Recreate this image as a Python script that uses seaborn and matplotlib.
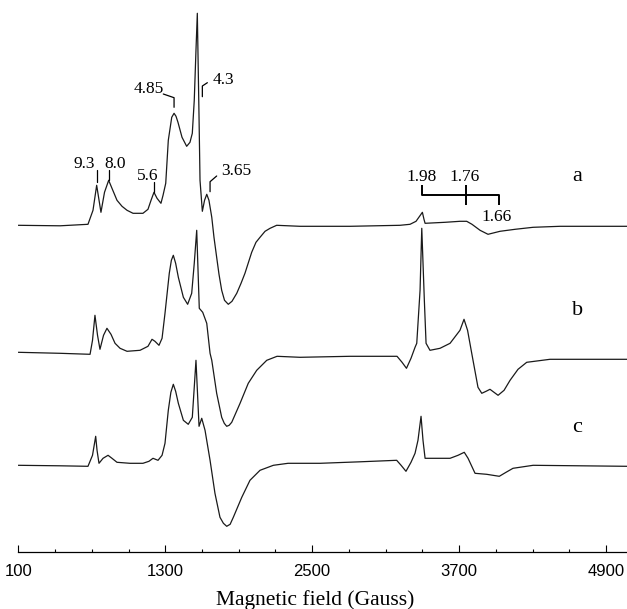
import matplotlib
matplotlib.use("Agg")
import matplotlib.pyplot as plt
import seaborn as sns
import pandas as pd

# ---------------- data ----------------
field_a = [100, 441, 669, 710, 740, 775, 804, 838, 865, 906, 947, 988, 1037, 1118, 1159, 1184,
           1208, 1233, 1265, 1282, 1304, 1325, 1353, 1372, 1388, 1404, 1437, 1475, 1502, 1521, 1537,
           1551, 1562, 1576, 1584, 1603, 1621, 1639, 1657, 1680, 1698, 1720, 1739, 1761, 1784,
           1815, 1845, 1884, 1919, 1951, 2006, 2041, 2074, 2115, 2156, 2210, 2401, 2809, 3217,
           3299, 3348, 3377, 3400, 3413, 3422, 3585, 3707, 3762, 3805, 3871, 3936, 4034, 4157,
           4304, 4524, 5071]
signal_a = [0, -0.5, 1, 15, 40, 13, 33, 45, 37, 25, 19, 15, 12, 12, 16, 25,
            33, 27, 22, 30, 42, 85, 108, 112, 109, 103, 88, 79, 83, 92, 125,
            175, 212, 108, 45, 14, 25, 31, 25, 8, -12, -32, -49, -65, -75,
            -79, -76, -68, -58, -48, -27, -17, -12, -6, -3, 0, -1, -1, 0,
            1, 4, 9, 13, 6, 2, 3, 4, 4, 1, -5, -9, -6, -4,
            -2, -1, -1]

field_b = [100, 441, 686, 706, 726, 747, 767, 796, 824, 857, 890, 931, 988, 1094, 1159, 1192,
           1216, 1249, 1274, 1298, 1333, 1350, 1366, 1385, 1407, 1448, 1483, 1516, 1537, 1557, 1578, 1606,
           1639, 1666, 1680, 1720, 1761, 1782, 1802, 1822, 1843, 1911, 1978, 2047, 2129, 2213, 2401, 2809,
           3193, 3234, 3270, 3307, 3340, 3354, 3381, 3395, 3416, 3430, 3462, 3544, 3626, 3707,
           3740, 3769, 3803, 3854, 3885, 3920, 3952, 3985, 4018, 4067, 4116, 4181, 4252, 4442,
           5071]
signal_b = [2, 1, 0, 14, 39, 19, 5, 19, 26, 20, 11, 6, 3, 4, 8, 15,
            13, 9, 16, 41, 81, 94, 99, 91, 77, 57, 50, 61, 91, 124, 46, 42,
            31, 1, -6, -39, -63, -69, -72, -71, -68, -49, -29, -16, -6, -2, -3, -2,
            -2, -8, -14, -4, 7, 11, 64, 126, 54, 11, 4, 6, 11, 24,
            35, 24, 1, -33, -39, -37, -35, -38, -41, -36, -26, -15, -8, -5,
            -5]

field_c = [100, 441, 669, 706, 732, 743, 759, 792, 833, 865, 906, 1012, 1118, 1167, 1200, 1241,
           1274, 1298, 1325, 1346, 1366, 1385, 1407, 1448, 1488, 1521, 1537, 1551, 1576, 1598, 1625, 1666,
           1706, 1747, 1775, 1802, 1830, 1856, 1925, 1992, 2074, 2183, 2303, 2564, 2891, 3190, 3226, 3266,
           3307, 3340, 3364, 3389, 3405, 3422, 3626, 3691, 3742, 3773, 3830, 3925, 4028, 4083,
           4140, 4304, 5071]
signal_c = [-1, -1.5, -2, 9, 28, 14, 1, 6, 9, 6, 2, 1, 1, 3, 6, 4,
            9, 21, 54, 72, 80, 73, 61, 44, 40, 47, 77, 104, 38, 46, 34, 4,
            -29, -53, -59, -62, -60, -53, -33, -16, -6, -1, 1, 1, 2.5, 4, -1, -7,
            2, 11, 24, 48, 24, 6, 6, 9, 12, 6, -9, -10, -12, -8,
            -4, -1, -2]

samples = ["a", "b", "c"]
x_ticks = [100, 1300, 2500, 3700, 4900]
g_left_labels = ["9.3", "8.0", "5.6", "4.85", "4.3", "3.65"]
g_right_labels = ["1.98", "1.76", "1.66"]

# ---------------- figure ----------------
sns.set_theme(style="white")
plt.rcParams["font.family"] = ["Liberation Serif", "DejaVu Serif"]

W, H = 627, 609
fig = plt.figure(figsize=(W / 100, H / 100), dpi=100)
ax_l, ax_b = 18.3 / W, 1 - 552.3 / H
ax = fig.add_axes([ax_l, ax_b, 1 - ax_l, 552.3 / H])

offsets = {"a": 327, "b": 198, "c": 88}
frames = []
for name, fx, sy in zip(samples, [field_a, field_b, field_c], [signal_a, signal_b, signal_c]):
    d = pd.DataFrame({"field": fx, "signal": sy})
    d["sample"] = name
    d["trace"] = d["signal"] + offsets[name]
    frames.append(d)
df = pd.concat(frames, ignore_index=True)

sns.lineplot(data=df, x="field", y="trace", units="sample", estimator=None, sort=False,
             color="#1a1a1a", linewidth=0.9, ax=ax, legend=False)

ax.set_xlim(100, 5071)
ax.set_ylim(0, 552.3)
ax.set_yticks([])
ax.set_ylabel("")
for s in ["left", "right", "top"]:
    ax.spines[s].set_visible(False)
ax.spines["bottom"].set_color("black")
ax.spines["bottom"].set_linewidth(0.9)

ax.set_xticks(x_ticks)
ax.set_xticks([v for v in range(100, 5072, 300) if v not in x_ticks], minor=True)
ax.tick_params(axis="x", which="major", direction="in", length=5.4, width=0.8,
               color="black", pad=8.5, bottom=True)
ax.tick_params(axis="x", which="minor", direction="in", length=2.2, width=0.8,
               color="black", bottom=True)
for lab in ax.get_xticklabels():
    lab.set_fontfamily(["Liberation Sans", "DejaVu Sans"])
    lab.set_fontsize(12)
    lab.set_color("black")

ax.set_xlabel("Magnetic field (Gauss)", fontsize=15.5, color="black")
ax.xaxis.set_label_coords((315.5 - 18.3) / 608.7, -(590.5 - 552.3) / 552.3)

# ---------------- annotations ----------------
ann_kw = dict(fontsize=12.5, color="black", ha="center", va="baseline")
lk = dict(color="black", lw=0.9, clip_on=False)
# left-hand g values
text_pos = [(638, 384), (890, 384), (1159, 372.3), (1168, 459), (1774, 468.3), (1876, 377.3)]
for lab, (tx, ty) in zip(g_left_labels, text_pos):
    ax.text(tx, ty, lab, **ann_kw)
ax.plot([740, 740], [370.3, 382.3], **lk)
ax.plot([841, 841], [372.3, 382.3], **lk)
ax.plot([1208, 1208], [360.6, 370.6], **lk)
ax.plot([1284, 1372, 1372], [458.3, 454.6, 445], **lk)
ax.plot([1603, 1603, 1644], [455.6, 466.3, 469.6], **lk)
ax.plot([1666, 1666, 1720], [360.6, 370.6, 376.3], **lk)

# right-hand g values
ax.text(3391, 371.3, g_right_labels[0], **ann_kw)
ax.text(3748, 371.3, g_right_labels[1], **ann_kw)
ax.text(4007, 331.6, g_right_labels[2], **ann_kw)
bk = dict(color="black", lw=1.4, clip_on=False, solid_capstyle="butt")
ax.plot([3395, 3395, 4026, 4026], [367.3, 357.3, 357.3, 347.3], **bk)
ax.plot([3754, 3754], [367.3, 347.3], **bk)

# trace letters
for name, (tx, ty) in zip(samples, [(4663, 371.3), (4671, 237.3), (4660, 120.6)]):
    ax.text(tx, ty, name, fontsize=16, color="black", ha="center", va="baseline")

fig.savefig("out.png", dpi=100, facecolor="white")
